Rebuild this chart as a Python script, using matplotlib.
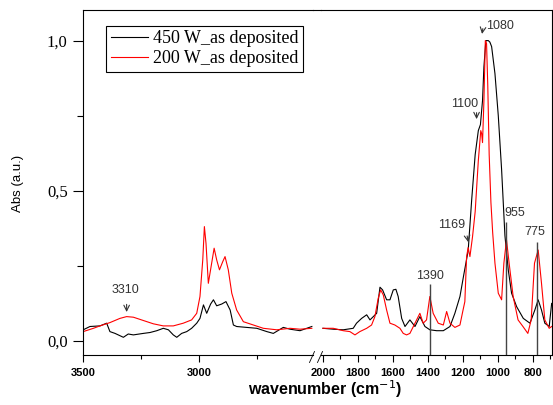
import matplotlib
matplotlib.use("Agg")
import matplotlib.pyplot as plt
from matplotlib.lines import Line2D
from matplotlib.ticker import MultipleLocator

# Spectres : partie haute (3500-2500) et partie basse (2000-690)
onde_gauche_450 = [3499, 3470, 3427, 3398, 3384, 3362, 3326, 3305, 3283, 3240, 3211, 3182, 3154,
                   3132, 3111, 3096, 3075, 3053, 3032, 3010, 2996, 2981, 2967, 2950, 2938, 2924,
                   2902, 2884, 2866, 2852, 2838, 2795, 2751, 2708, 2680, 2637, 2608, 2565, 2514]
abs_gauche_450 = [0.036, 0.047, 0.049, 0.058, 0.030, 0.024, 0.011, 0.022, 0.019, 0.024, 0.027, 0.033, 0.041,
                  0.036, 0.019, 0.011, 0.024, 0.030, 0.041, 0.058, 0.074, 0.119, 0.091, 0.122, 0.136, 0.116,
                  0.122, 0.130, 0.102, 0.052, 0.047, 0.044, 0.041, 0.030, 0.024, 0.044, 0.038, 0.033, 0.047]

onde_gauche_200 = [3499, 3455, 3427, 3384, 3341, 3312, 3283, 3240, 3197, 3154, 3111, 3068, 3032,
                   3010, 2996, 2984, 2977, 2970, 2960, 2948, 2935, 2924, 2912, 2898, 2888, 2874,
                   2859, 2838, 2809, 2766, 2723, 2665, 2608, 2565, 2514]
abs_gauche_200 = [0.030, 0.041, 0.049, 0.060, 0.074, 0.080, 0.078, 0.067, 0.056, 0.049, 0.049, 0.058, 0.069,
                  0.091, 0.147, 0.269, 0.380, 0.324, 0.191, 0.247, 0.308, 0.269, 0.236, 0.263, 0.280, 0.236,
                  0.158, 0.102, 0.063, 0.052, 0.041, 0.036, 0.041, 0.038, 0.041]

onde_droite_450 = [2000, 1941, 1884, 1827, 1808, 1779, 1750, 1731, 1712, 1693, 1674, 1659, 1636, 1617,
                   1598, 1583, 1570, 1550, 1531, 1503, 1474, 1446, 1417, 1389, 1350, 1312, 1274, 1246,
                   1217, 1195, 1170, 1150, 1130, 1112, 1100, 1088, 1080, 1069, 1055, 1046, 1036, 1017,
                   998, 979, 960, 941, 922, 893, 855, 817, 789, 770, 751, 732, 707, 693]
abs_droite_450 = [0.041, 0.038, 0.036, 0.041, 0.058, 0.074, 0.086, 0.069, 0.080, 0.091, 0.178, 0.169, 0.136, 0.136,
                  0.169, 0.171, 0.147, 0.074, 0.047, 0.069, 0.047, 0.080, 0.047, 0.036, 0.033, 0.033, 0.047, 0.091,
                  0.147, 0.220, 0.300, 0.469, 0.620, 0.700, 0.720, 0.800, 0.913, 1.000, 1.000, 0.995, 0.980, 0.890,
                  0.750, 0.570, 0.350, 0.236, 0.158, 0.113, 0.074, 0.058, 0.102, 0.136, 0.102, 0.058, 0.047, 0.124]

onde_droite_200 = [2000, 1941, 1884, 1846, 1817, 1789, 1750, 1722, 1703, 1684, 1670, 1655, 1636, 1617,
                   1589, 1560, 1541, 1522, 1503, 1474, 1446, 1427, 1408, 1389, 1370, 1341, 1312, 1293,
                   1274, 1246, 1217, 1200, 1189, 1179, 1170, 1160, 1145, 1130, 1112, 1098, 1093, 1088,
                   1080, 1072, 1065, 1058, 1050, 1040, 1030, 1017, 998, 979, 966, 951, 936, 913, 885,
                   857, 829, 810, 791, 770, 751, 732, 707, 693]
abs_droite_200 = [0.041, 0.041, 0.033, 0.030, 0.019, 0.030, 0.041, 0.052, 0.080, 0.141, 0.169, 0.152, 0.102, 0.058,
                  0.052, 0.041, 0.024, 0.019, 0.024, 0.058, 0.091, 0.058, 0.069, 0.147, 0.091, 0.058, 0.052, 0.097,
                  0.058, 0.044, 0.052, 0.100, 0.130, 0.280, 0.310, 0.280, 0.347, 0.430, 0.600, 0.700, 0.690, 0.660,
                  0.800, 1.000, 0.990, 0.850, 0.620, 0.460, 0.360, 0.258, 0.158, 0.136, 0.258, 0.336, 0.258, 0.147, 0.069,
                  0.047, 0.024, 0.069, 0.258, 0.302, 0.191, 0.069, 0.041, 0.047]

# Bandes marquées par un trait vertical : position, hauteur du trait
bandes_traits = [1390, 955, 775]
hauteur_traits = [0.19, 0.397, 0.33]
# Bandes marquées par une flèche
bandes_fleches = [1166, 1122, 1093]

couleur_annot = "#333333"
police_annot = dict(family="Liberation Sans", size=9, color=couleur_annot)

fig = plt.figure(figsize=(5.53, 4.05), dpi=100)
ax1 = fig.add_axes([83 / 553, 1 - 355 / 405, 230 / 553, 345 / 405])
ax2 = fig.add_axes([321 / 553, 1 - 355 / 405, 231 / 553, 345 / 405])

l1, = ax1.plot(onde_gauche_450, abs_gauche_450, color="black", lw=0.8)
l2, = ax1.plot(onde_gauche_200, abs_gauche_200, color="red", lw=0.8)
ax2.plot(onde_droite_450, abs_droite_450, color="black", lw=0.8)
ax2.plot(onde_droite_200, abs_droite_200, color="red", lw=0.8)

y_bas, y_haut = -0.048, 1.102
for ax in (ax1, ax2):
    ax.set_ylim(y_bas, y_haut)
    ax.tick_params(axis="x", which="major", direction="out", length=5, width=0.8, pad=4)
    ax.tick_params(axis="x", which="minor", direction="out", length=3, width=0.8)

ax1.set_xlim(3500, 2509)
ax1.xaxis.set_major_locator(MultipleLocator(500))
ax1.xaxis.set_minor_locator(MultipleLocator(250))
ax2.set_xlim(2011, 691)
ax2.xaxis.set_major_locator(MultipleLocator(200))
ax2.xaxis.set_minor_locator(MultipleLocator(100))

for ax in (ax1, ax2):
    for lab in ax.get_xticklabels():
        lab.set_fontfamily("Liberation Sans")
        lab.set_fontweight("bold")
        lab.set_fontsize(8)

# Axe y uniquement à gauche, avec des virgules décimales
ax1.set_yticks([0.0, 0.5, 1.0])
ax1.set_yticklabels(["0,0", "0,5", "1,0"], family="Liberation Serif", size=12)
ax1.yaxis.set_minor_locator(MultipleLocator(0.25))
ax1.tick_params(axis="y", which="major", direction="out", length=7, width=0.8, pad=4)
ax1.tick_params(axis="y", which="minor", direction="out", length=4, width=0.8)
ax2.tick_params(axis="y", which="both", left=False, labelleft=False)

ax1.spines["right"].set_visible(False)
ax2.spines["left"].set_visible(False)
for ax in (ax1, ax2):
    for s in ax.spines.values():
        s.set_linewidth(0.8)

# Coupure de l'axe : trait du haut continu et deux barres obliques en bas
fig.add_artist(Line2D([313 / 553, 321 / 553], [1 - 10 / 405, 1 - 10 / 405], color="black", lw=0.8))
for xb in (309.5, 317.5):
    fig.add_artist(Line2D([xb / 553, (xb + 5) / 553], [1 - 362.5 / 405, 1 - 351.5 / 405],
                          color="black", lw=0.6))

# Annotations
ax1.annotate("", xy=(3312, 0.086), xytext=(3312, 0.13),
             arrowprops=dict(arrowstyle="->", color=couleur_annot, lw=0.8))
ax1.text(3319, 0.17, "3310", ha="center", va="center", **police_annot)

ax2.vlines(bandes_traits, y_bas, hauteur_traits, color="#444444", lw=1.0)
ax2.text(1390, 0.216, "1390", ha="center", va="center", **police_annot)
ax2.text(903, 0.426, "955", ha="center", va="center", **police_annot)
ax2.text(789, 0.363, "775", ha="center", va="center", **police_annot)

ax2.annotate("", xy=(bandes_fleches[0], 0.319), xytext=(1179, 0.358),
             arrowprops=dict(arrowstyle="->", color=couleur_annot, lw=0.8))
ax2.text(1265, 0.386, "1169", ha="center", va="center", **police_annot)
ax2.annotate("", xy=(bandes_fleches[1], 0.729), xytext=(1122, 0.769),
             arrowprops=dict(arrowstyle="->", color=couleur_annot, lw=0.8))
ax2.text(1189, 0.789, "1100", ha="center", va="center", **police_annot)
ax2.annotate("", xy=(bandes_fleches[2], 1.013), xytext=(1084, 1.049),
             arrowprops=dict(arrowstyle="->", color=couleur_annot, lw=0.8))
ax2.text(989, 1.049, "1080", ha="center", va="center", **police_annot)

# Légende
leg = ax1.legend([l1, l2], ["450 W_as deposited", "200 W_as deposited"],
                 loc="upper left", bbox_to_anchor=(0.1, 0.954), borderaxespad=0,
                 prop=dict(family="Liberation Serif", size=13), frameon=True, fancybox=False,
                 edgecolor="black", framealpha=1, handlelength=2.1, handletextpad=0.25,
                 labelspacing=0.15, borderpad=0.25)
leg.get_frame().set_linewidth(0.8)

fig.text(18 / 553, 1 - 183 / 405, "Abs (a.u.)", rotation=90, ha="center", va="center",
         family="Liberation Sans", size=9.5)
fig.text(325 / 553, 1 - 389 / 405, "wavenumber (cm$^{-1}$)", ha="center", va="center",
         family="Liberation Sans", weight="bold", size=11.5)

plt.savefig("out.png", dpi=100)
